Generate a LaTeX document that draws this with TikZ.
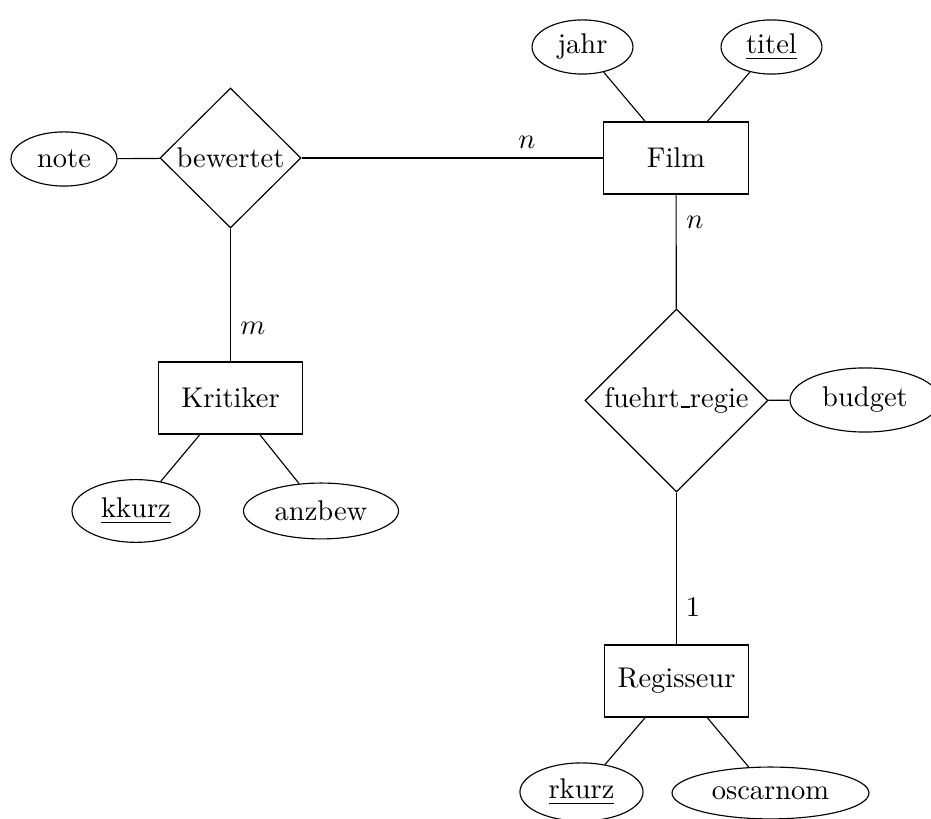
\documentclass[tikz,border=0pt]{standalone}
\usetikzlibrary{shapes.geometric}
\newcommand{\otusc}{\leavevmode\kern.06em\vbox{\hrule width.3em}}
\begin{document}
\begin{tikzpicture}[x=0.35088pt,y=-0.35088pt,
  entity/.style={draw,rectangle,inner sep=0pt,minimum width=50.7pt,minimum height=25.3pt},
  rel/.style={draw,diamond,inner sep=0pt},
  attr/.style={draw,ellipse,inner sep=0pt},
  card/.style={inner sep=0pt}]
\useasboundingbox (0,0) rectangle (931,819);
% entities
\node[entity] (film) at (676,158) {Film};
\node[entity] (krit) at (230.5,398) {Kritiker};
\node[entity] (reg) at (676.5,681) {Regisseur};
% relationships
\node[rel,minimum width=49.5pt,minimum height=49.1pt] (bew) at (230.5,158) {bewertet};
\node[rel,minimum width=64.2pt,minimum height=64.2pt] (fr) at (676.5,400.5) {fuehrt\otusc regie};
% attributes
\node[attr,minimum width=35.4pt,minimum height=19pt] (jahr) at (582.5,47) {jahr};
\node[attr,minimum width=35.4pt,minimum height=19pt] (titel) at (771.5,47) {\underline{titel}};
\node[attr,minimum width=37.2pt,minimum height=19pt] (note) at (64,159) {note};
\node[attr,minimum width=44.9pt,minimum height=22pt] (kkurz) at (136,511) {\underline{kkurz}};
\node[attr,minimum width=54.4pt,minimum height=19.6pt] (anzbew) at (321,511) {anzbew};
\node[attr,minimum width=52.6pt,minimum height=22.5pt] (budget) at (865,400) {budget};
\node[attr,minimum width=43.2pt,minimum height=20.4pt] (rkurz) at (581.5,792) {\underline{rkurz}};
\node[attr,minimum width=69.1pt,minimum height=18.2pt] (osc) at (770.5,793) {oscarnom};
% connectors
\draw (jahr) -- (film);
\draw (titel) -- (film);
\draw (note) -- (bew);
\draw (bew) -- (film);
\draw (bew) -- (krit);
\draw (film) -- (fr);
\draw (fr) -- (budget);
\draw (fr) -- (reg);
\draw (krit) -- (kkurz);
\draw (krit) -- (anzbew);
\draw (reg) -- (rkurz);
\draw (reg) -- (osc);
% cardinalities
\node[card] (c1) at (527,142) {$n$};
\node[card] (c2) at (695,222) {$n$};
\node[card] (c3) at (253,328) {$m$};
\node[card] (c4) at (693,607) {$1$};
\end{tikzpicture}
\end{document}
